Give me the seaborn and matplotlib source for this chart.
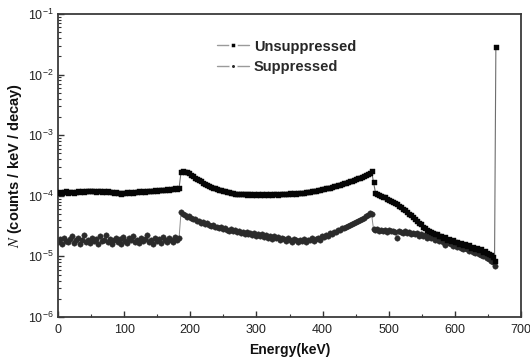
import numpy as np
import pandas as pd
import matplotlib
matplotlib.use("Agg")
import matplotlib.pyplot as plt
import seaborn as sns
from matplotlib.lines import Line2D
from matplotlib.ticker import LogLocator, MultipleLocator, NullFormatter

# Energy grid (keV)
energy = list(range(0, 661, 3))
peak_energy = [662]

# Unsuppressed spectrum, units of 1e-5 counts/keV/decay
unsup_a = [11.3, 11.6, 11.0, 11.4, 11.8, 11.2, 11.5, 11.7, 11.3, 11.6,
           11.9, 11.5, 12.0, 11.7, 12.1, 11.8, 12.2, 11.9, 12.0, 11.6,
           11.8, 12.1, 11.7, 11.9, 11.5, 11.8, 11.4, 11.6, 11.2, 11.5,
           11.0, 11.3, 10.8, 11.2, 11.0, 11.4, 11.1, 11.5, 11.3, 11.6,
           11.4, 11.8, 11.6, 11.9, 11.7, 12.1, 11.9, 12.2, 12.0, 12.4,
           12.2, 12.5, 12.3, 12.7, 12.5, 12.8, 12.6, 13.0, 12.8, 13.2, 13.0, 13.3]
unsup_b = [24.5, 25.5, 25.0, 24.6, 23.5, 22.3, 21.2, 20.0, 19.0, 18.2,
           17.3, 16.5, 15.8, 15.2, 14.6, 14.1, 13.7, 13.3, 12.9, 12.6,
           12.3, 12.0, 11.8, 11.6, 11.4, 11.2, 11.1, 10.9, 10.8, 10.7,
           10.9, 10.6, 10.8, 10.5, 10.7, 10.6, 10.4, 10.7, 10.5, 10.6,
           10.4, 10.7, 10.5, 10.6, 10.4, 10.7, 10.5, 10.8, 10.6, 10.5,
           10.8, 10.6, 10.9, 10.7, 10.8, 11.0, 10.8, 11.1, 10.9, 11.2,
           11.1, 11.3, 11.2, 11.5, 11.4, 11.7, 11.8, 12.0, 12.1, 12.4,
           12.5, 12.8, 12.9, 13.2, 13.4, 13.7, 13.9, 14.3, 14.5, 14.9,
           15.2, 15.6, 16.0, 16.4, 16.8, 17.3, 17.7, 18.2, 18.7, 19.3,
           19.8, 20.5, 21.2, 22.0, 22.9, 24.0, 25.5]
unsup_c = [17.0, 11.2, 10.8, 10.5, 10.1, 9.7, 9.4, 9.0, 8.6, 8.3,
           7.9, 7.5, 7.2, 6.8, 6.5, 6.1, 5.8, 5.4, 5.1, 4.8,
           4.5, 4.2, 3.9, 3.6, 3.4, 3.1, 2.9, 2.75, 2.6, 2.5,
           2.45, 2.3, 2.35, 2.15, 2.2, 2.0, 2.1, 1.9, 1.95, 1.8,
           1.85, 1.7, 1.75, 1.62, 1.68, 1.55, 1.6, 1.46, 1.52, 1.4,
           1.45, 1.33, 1.38, 1.26, 1.3, 1.2, 1.22, 1.12, 1.1, 1.04,
           0.98, 0.85]
unsup_peak = [2850.0]

# Suppressed spectrum, units of 1e-5 counts/keV/decay
sup_a = [1.75, 1.95, 1.62, 2.05, 1.80, 1.70, 1.92, 2.15, 1.68, 1.85,
         1.98, 1.58, 1.88, 2.22, 1.72, 1.90, 1.65, 2.05, 1.82, 1.95,
         1.60, 2.18, 1.78, 1.88, 2.25, 1.70, 1.95, 1.62, 1.85, 2.02,
         1.75, 1.92, 1.58, 2.08, 1.80, 1.68, 1.98, 1.85, 2.20, 1.72,
         1.90, 1.65, 2.05, 1.78, 1.95, 2.25, 1.70, 1.88, 1.62, 2.00,
         1.82, 1.95, 1.68, 2.12, 1.85, 1.75, 2.02, 1.90, 1.72, 2.08, 1.88, 1.98]
sup_b = [5.4, 5.0, 4.8, 4.5, 4.6, 4.3, 4.1, 4.2, 3.9, 3.8,
         3.6, 3.7, 3.4, 3.5, 3.3, 3.2, 3.35, 3.05, 3.1, 2.95,
         3.0, 2.8, 2.9, 2.75, 2.65, 2.8, 2.6, 2.7, 2.5, 2.6,
         2.45, 2.55, 2.35, 2.5, 2.3, 2.4, 2.25, 2.45, 2.2, 2.3,
         2.15, 2.35, 2.1, 2.25, 2.05, 2.2, 1.95, 2.15, 2.0, 2.1,
         1.85, 2.05, 1.95, 1.8, 2.0, 1.9, 1.75, 1.95, 1.85, 1.7,
         1.9, 1.8, 1.95, 1.75, 1.9, 1.85, 2.0, 1.8, 1.95, 2.05,
         1.9, 2.15, 2.1, 2.25, 2.2, 2.4, 2.35, 2.55, 2.5, 2.7,
         2.75, 2.9, 2.95, 3.1, 3.2, 3.35, 3.4, 3.6, 3.7, 3.85,
         4.0, 4.2, 4.35, 4.6, 4.9, 5.2, 5.0]
sup_c = [2.85, 2.7, 2.8, 2.65, 2.75, 2.6, 2.7, 2.55, 2.72, 2.6,
         2.65, 2.5, 2.0, 2.6, 2.55, 2.45, 2.6, 2.4, 2.5, 2.35,
         2.45, 2.3, 2.4, 2.2, 2.3, 2.15, 2.25, 2.05, 2.15, 2.0,
         2.1, 1.9, 1.95, 1.8, 1.9, 1.75, 1.55, 1.7, 1.65, 1.6,
         1.5, 1.55, 1.45, 1.5, 1.4, 1.3, 1.4, 1.3, 1.25, 1.3,
         1.2, 1.15, 1.2, 1.1, 1.05, 1.0, 1.02, 0.95, 0.9, 0.85,
         0.8, 0.7]

unit = 1e-5
unsup = [v * unit for v in unsup_a + unsup_b + unsup_c + unsup_peak]
sup = [v * unit for v in sup_a + sup_b + sup_c]
e_unsup = energy + peak_energy
e_sup = energy
assert len(unsup) == len(e_unsup), (len(unsup), len(e_unsup))
assert len(sup) == len(e_sup), (len(sup), len(e_sup))

df_u = pd.DataFrame({"E": e_unsup, "N": unsup})
df_s = pd.DataFrame({"E": e_sup, "N": sup})

sns.set_theme(style="white")
plt.rcParams["font.family"] = ["Liberation Sans", "DejaVu Sans"]
plt.rcParams["mathtext.fontset"] = "stix"

fig = plt.figure(figsize=(5.30, 3.57), dpi=100)
ax = fig.add_axes([58 / 530, 40 / 357, 463 / 530, 303 / 357])

sns.lineplot(data=df_s, x="E", y="N", ax=ax, estimator=None, sort=False,
             color="#8c8c8c", linewidth=0.7, marker="o", markersize=3.9,
             markerfacecolor="#2b2b2b", markeredgecolor="#2b2b2b",
             markeredgewidth=0.3, zorder=2)
sns.lineplot(data=df_u, x="E", y="N", ax=ax, estimator=None, sort=False,
             color="#6e6e6e", linewidth=0.8, marker="s", markersize=3.6,
             markerfacecolor="#050505", markeredgecolor="#050505",
             markeredgewidth=0.3, zorder=3)

ax.set_yscale("log")
ax.set_xlim(0, 700)
ax.set_ylim(1e-6, 1e-1)
ax.xaxis.set_major_locator(MultipleLocator(100))
ax.xaxis.set_minor_locator(MultipleLocator(50))
ax.yaxis.set_major_locator(LogLocator(base=10, numticks=10))
ax.yaxis.set_minor_locator(LogLocator(base=10, subs=np.arange(2, 10), numticks=20))
ax.yaxis.set_minor_formatter(NullFormatter())
ax.tick_params(axis="both", which="major", direction="in", length=4, width=1,
               colors="#333333", labelsize=9, labelcolor="#222222",
               top=False, right=False, bottom=True, left=True)
ax.tick_params(axis="both", which="minor", direction="in", length=2.2, width=0.8,
               colors="#333333", top=False, right=False, bottom=True, left=True)
ax.tick_params(axis="x", pad=5)
ax.tick_params(axis="y", pad=3)
for s in ax.spines.values():
    s.set_linewidth(1.3)
    s.set_color("#3a3a3a")

ax.set_xlabel("Energy(keV)", fontsize=10, fontweight="bold", labelpad=5, color="#111111")
ax.set_ylabel(r"$\mathit{N}$ (counts / keV / decay)", fontsize=10.5, fontweight="bold",
              color="#111111")
ax.yaxis.set_label_coords(-0.073, 0.5)

handles = [
    Line2D([0], [0], color="#9a9a9a", linewidth=1.0, marker="s", markersize=3.8,
           markerfacecolor="#050505", markeredgecolor="white", markeredgewidth=1.8),
    Line2D([0], [0], color="#9a9a9a", linewidth=1.0, marker="o", markersize=4.0,
           markerfacecolor="#2b2b2b", markeredgecolor="white", markeredgewidth=1.8),
]
leg = ax.legend(handles, ["Unsuppressed", "Suppressed"], loc="upper left",
                bbox_to_anchor=(0.33, 0.935), frameon=False, handlelength=2.2,
                handletextpad=0.35, labelspacing=0.45, borderaxespad=0,
                prop={"weight": "bold", "size": 10.5})
leg.get_texts()[1].set_color("#2a2a2a")

fig.savefig("out.png", dpi=100)
